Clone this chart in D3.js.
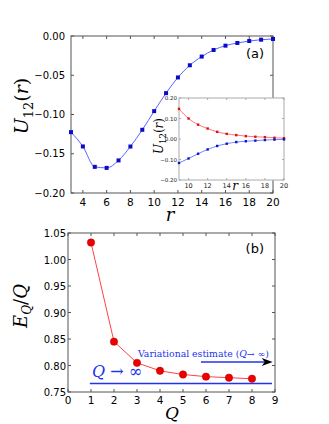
<!DOCTYPE html>
<html>
<head>
<meta charset="utf-8">
<script src="https://d3js.org/d3.v7.min.js"></script>
<style>
body{margin:0;background:#fff;}
text{font-family:"DejaVu Sans",sans-serif;}
.serif{font-family:"DejaVu Serif","Liberation Serif",serif;}
</style>
</head>
<body>
<script>
// panel (a): main curve
var rMain = [3,4,5,6,7,8,9,10,11,12,13,14,15,16,17,18,19,20];
var uMain = [-0.1225,-0.1407,-0.1667,-0.168,-0.1585,-0.1408,-0.1195,-0.0957,-0.0728,-0.0528,-0.0373,-0.0262,-0.0178,-0.0123,-0.0089,-0.0064,-0.0047,-0.0038];
// inset
var rInset = [9,10,11,12,13,14,15,16,17,18,19,20];
var uInsetRed = [0.147,0.100,0.070,0.051,0.035,0.025,0.019,0.014,0.011,0.009,0.006,0.004];
var uInsetBlue = [-0.117,-0.095,-0.072,-0.051,-0.034,-0.023,-0.015,-0.011,-0.008,-0.005,-0.003,-0.002];
// panel (b)
var qVals = [1,2,3,4,5,6,7,8];
var eVals = [1.032,0.845,0.805,0.790,0.783,0.779,0.777,0.775];
var qInf = 0.766;            // Q -> infinity level
var qInfRange = [0.95, 8.87];
var variational = 0.8066;     // variational estimate arrow level
var variationalRange = [5.78, 8.9];

var xTicksA = [4,6,8,10,12,14,16,18,20];
var yTicksA = [0,-0.05,-0.10,-0.15,-0.20];
var xTicksIn = [10,12,14,16,18,20];
var yTicksIn = [0.2,0.1,0,-0.1,-0.2];
var xTicksB = [0,1,2,3,4,5,6,7,8,9];
var yTicksB = [0.75,0.80,0.85,0.90,0.95,1.00,1.05];

var svg = d3.select("body").append("svg").attr("width",329).attr("height",424);
var minus = function(v, f){ var s = d3.format(f)(Math.abs(v)); return v < 0 ? "\u2212" + s : s; };

function frame(g, x, y, col){
    g.append("rect").attr("x",x.range()[0]).attr("y",y.range()[1])
     .attr("width",x.range()[1]-x.range()[0]).attr("height",y.range()[0]-y.range()[1])
     .attr("fill","#fff").attr("stroke",col).attr("stroke-width",1);
}
function ticks(g, x, y, xt, yt, len, col){
    xt.forEach(function(t){
        g.append("line").attr("x1",x(t)).attr("x2",x(t)).attr("y1",y.range()[0]).attr("y2",y.range()[0]-len).attr("stroke",col);
        g.append("line").attr("x1",x(t)).attr("x2",x(t)).attr("y1",y.range()[1]).attr("y2",y.range()[1]+len).attr("stroke",col);
    });
    yt.forEach(function(t){
        g.append("line").attr("y1",y(t)).attr("y2",y(t)).attr("x1",x.range()[0]).attr("x2",x.range()[0]+len).attr("stroke",col);
        g.append("line").attr("y1",y(t)).attr("y2",y(t)).attr("x1",x.range()[1]).attr("x2",x.range()[1]-len).attr("stroke",col);
    });
}

// ---------- panel (a)
var xa = d3.scaleLinear().domain([3,20]).range([71,273]);
var ya = d3.scaleLinear().domain([-0.2,0]).range([193,36]);
var ga = svg.append("g");
frame(ga, xa, ya, "#555");
ticks(ga, xa, ya, xTicksA, yTicksA, 3, "#555");
ga.selectAll(".xl").data(xTicksA).enter().append("text")
  .attr("x",function(d){return xa(d);}).attr("y",206).attr("text-anchor","middle")
  .attr("font-size",10.5).text(function(d){return d;});
ga.selectAll(".yl").data(yTicksA).enter().append("text")
  .attr("x",65).attr("y",function(d){return ya(d)+3.5;}).attr("text-anchor","end")
  .attr("font-size",10).text(function(d){return minus(d,".2f");});
ga.append("path").datum(rMain.map(function(r,i){return [r,uMain[i]];}))
  .attr("d",d3.line().x(function(d){return xa(d[0]);}).y(function(d){return ya(d[1]);}).curve(d3.curveMonotoneX))
  .attr("fill","none").attr("stroke","#5566ff").attr("stroke-width",1);
ga.selectAll(".sq").data(rMain).enter().append("rect")
  .attr("x",function(d){return xa(d)-2;}).attr("y",function(d,i){return ya(uMain[i])-2;})
  .attr("width",4).attr("height",4).attr("fill","#0a0ac8");
ga.append("text").attr("x",264).attr("y",58).attr("text-anchor","end").attr("font-size",13).text("(a)");
ga.append("text").attr("class","serif").attr("x",170).attr("y",221).attr("text-anchor","middle")
  .attr("font-size",18).attr("font-style","italic").text("r");
var la = ga.append("text").attr("class","serif").attr("transform","translate(28,106) rotate(-90)")
  .attr("text-anchor","middle").attr("font-size",19);
la.append("tspan").attr("font-style","italic").text("U");
la.append("tspan").attr("font-size",13).attr("dy",5).text("12");
la.append("tspan").attr("dy",-5).text("(");
la.append("tspan").attr("font-style","italic").text("r");
la.append("tspan").text(")");

// ---------- inset
var xi = d3.scaleLinear().domain([9,20]).range([179,284]);
var yi = d3.scaleLinear().domain([-0.2,0.2]).range([180,98]);
var gi = svg.append("g");
frame(gi, xi, yi, "#aaa");
ticks(gi, xi, yi, xTicksIn, yTicksIn, 2, "#aaa");
gi.selectAll(".xl").data(xTicksIn).enter().append("text")
  .attr("x",function(d){return xi(d);}).attr("y",188).attr("text-anchor","middle")
  .attr("font-size",6.5).attr("fill","#222").text(function(d){return d;});
gi.selectAll(".yl").data(yTicksIn).enter().append("text")
  .attr("x",177).attr("y",function(d){return yi(d)+2.2;}).attr("text-anchor","end")
  .attr("font-size",5.5).attr("fill","#222").text(function(d){return minus(d,".2f");});
[[uInsetRed,"#ff6666","#dd1111"],[uInsetBlue,"#6677ff","#1111cc"]].forEach(function(s){
    gi.append("path").datum(rInset.map(function(r,i){return [r,s[0][i]];}))
      .attr("d",d3.line().x(function(d){return xi(d[0]);}).y(function(d){return yi(d[1]);}).curve(d3.curveMonotoneX))
      .attr("fill","none").attr("stroke",s[1]).attr("stroke-width",0.9);
    gi.selectAll(null).data(rInset).enter().append("rect")
      .attr("x",function(d){return xi(d)-1.2;}).attr("y",function(d,i){return yi(s[0][i])-1.2;})
      .attr("width",2.4).attr("height",2.4).attr("fill",s[2]);
});
gi.append("text").attr("class","serif").attr("x",235).attr("y",190).attr("text-anchor","middle")
  .attr("font-size",12).attr("font-style","italic").text("r");
var li = gi.append("text").attr("class","serif").attr("transform","translate(163,136) rotate(-90)")
  .attr("text-anchor","middle").attr("font-size",12);
li.append("tspan").attr("font-style","italic").text("U");
li.append("tspan").attr("font-size",8.5).attr("dy",3).text("12");
li.append("tspan").attr("dy",-3).text("(");
li.append("tspan").attr("font-style","italic").text("r");
li.append("tspan").text(")");

// ---------- panel (b)
var xb = d3.scaleLinear().domain([0,9]).range([68,275]);
var yb = d3.scaleLinear().domain([0.75,1.05]).range([392,233]);
var gb = svg.append("g");
frame(gb, xb, yb, "#555");
ticks(gb, xb, yb, xTicksB, yTicksB, 3, "#555");
gb.selectAll(".xl").data(xTicksB).enter().append("text")
  .attr("x",function(d){return xb(d);}).attr("y",404).attr("text-anchor","middle")
  .attr("font-size",10.5).text(function(d){return d;});
gb.selectAll(".yl").data(yTicksB).enter().append("text")
  .attr("x",66).attr("y",function(d){return yb(d)+4;}).attr("text-anchor","end")
  .attr("font-size",10).text(function(d){return d3.format(".2f")(d);});
gb.append("line").attr("x1",xb(qInfRange[0])).attr("x2",xb(qInfRange[1]))
  .attr("y1",yb(qInf)).attr("y2",yb(qInf)).attr("stroke","#2233ee").attr("stroke-width",1.3);
gb.append("path").datum(qVals.map(function(q,i){return [q,eVals[i]];}))
  .attr("d",d3.line().x(function(d){return xb(d[0]);}).y(function(d){return yb(d[1]);}))
  .attr("fill","none").attr("stroke","#ff4444").attr("stroke-width",1);
gb.selectAll(".dot").data(qVals).enter().append("circle")
  .attr("cx",function(d){return xb(d);}).attr("cy",function(d,i){return yb(eVals[i]);})
  .attr("r",3.7).attr("fill","#ee0000").attr("stroke","#aa0000").attr("stroke-width",0.5);
// variational arrow
var ay = yb(variational), ax0 = xb(variationalRange[0]), ax1 = xb(variationalRange[1]);
gb.append("line").attr("x1",ax0).attr("x2",ax1-8).attr("y1",ay).attr("y2",ay)
  .attr("stroke","#2233ee").attr("stroke-width",1.3);
gb.append("path").attr("d","M"+(ax1-11)+","+(ay-4)+" L"+ax1+","+ay+" L"+(ax1-11)+","+(ay+4)+" L"+(ax1-8)+","+ay+" Z")
  .attr("fill","#000");
var vt = gb.append("text").attr("class","serif").attr("x",138).attr("y",357)
  .attr("font-size",8.5).attr("fill","#2233ee").attr("textLength",131).attr("lengthAdjust","spacingAndGlyphs");
vt.append("tspan").text("Variational estimate (");
vt.append("tspan").attr("font-style","italic").text("Q");
vt.append("tspan").text("\u2192 \u221e)");
var qt = gb.append("text").attr("class","serif").attr("x",92).attr("y",377)
  .attr("font-size",17).attr("fill","#2233ee").attr("textLength",50).attr("lengthAdjust","spacingAndGlyphs");
qt.append("tspan").attr("font-style","italic").text("Q");
qt.append("tspan").text(" \u2192 \u221e");
gb.append("text").attr("x",264).attr("y",253).attr("text-anchor","end").attr("font-size",13).text("(b)");
gb.append("text").attr("class","serif").attr("x",172).attr("y",419).attr("text-anchor","middle")
  .attr("font-size",17).attr("font-style","italic").text("Q");
var lb = gb.append("text").attr("class","serif").attr("transform","translate(27,306) rotate(-90)")
  .attr("text-anchor","middle").attr("font-size",18);
lb.append("tspan").attr("font-style","italic").text("E");
lb.append("tspan").attr("font-style","italic").attr("font-size",12).attr("dy",4).text("Q");
lb.append("tspan").attr("dy",-4).text("/");
lb.append("tspan").attr("font-style","italic").text("Q");
</script>
</body>
</html>
